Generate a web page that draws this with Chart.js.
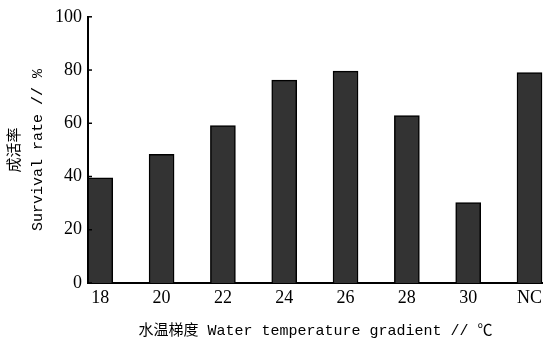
<!DOCTYPE html>
<html>
<head>
<meta charset="utf-8">
<script src="https://cdn.jsdelivr.net/npm/chart.js@4"></script>
<style>
html,body{margin:0;padding:0;background:#fff;}
#wrap{width:543px;height:340px;}
</style>
</head>
<body>
<div id="wrap"><canvas id="c"></canvas></div>
<script>
// Daten
const kategorien = ['18','20','22','24','26','28','30','NC'];
const ueberlebensrate = [39.5, 48.3, 59.1, 76.2, 79.6, 62.9, 30.2, 79.0];
const yTicks = [0, 20, 40, 60, 80, 100];

// kleine Striche nach innen an der y-Achse
const innenStriche = {
    id: 'innenStriche',
    afterDatasetsDraw(chart) {
        const y = chart.scales.y;
        const ctx = chart.ctx;
        ctx.save();
        ctx.strokeStyle = '#000';
        ctx.lineWidth = 1.5;
        y.ticks.forEach(t => {
            const py = y.getPixelForValue(t.value);
            ctx.beginPath();
            ctx.moveTo(chart.chartArea.left, py);
            ctx.lineTo(chart.chartArea.left + 4, py);
            ctx.stroke();
        });
        ctx.restore();
    }
};

const serif = "'Liberation Serif', 'DejaVu Serif', serif";
const titelFont = "'Liberation Mono', 'Noto Sans CJK SC', monospace";

new Chart(document.getElementById('c'), {
    type: 'bar',
    data: {
        datasets: [{
            data: ueberlebensrate.map((v, i) => ({x: i, y: v})),
            backgroundColor: '#333333',
            borderColor: '#000000',
            borderWidth: 1.5,
            borderSkipped: 'bottom',
            barThickness: 25,
        }],
    },
    plugins: [innenStriche],
    options: {
        responsive: true,
        maintainAspectRatio: false,
        animation: false,
        layout: {padding: {top: 9, right: 0, left: 0, bottom: 0}},
        plugins: {
            legend: {display: false},
            tooltip: {enabled: false},
        },
        scales: {
            x: {
                type: 'linear',
                offset: false,
                min: -0.2,
                max: 7.22,
                afterBuildTicks: s => { s.ticks = kategorien.map((k, i) => ({value: i})); },
                afterFit: s => { s.height = 57; s.paddingRight = 0; s.paddingLeft = 0; },
                ticks: {
                    callback: v => kategorien[v],
                    color: '#000',
                    font: {family: serif, size: 18},
                    padding: 4,
                    maxRotation: 0,
                    autoSkip: false,
                },
                grid: {display: false, drawTicks: false, offset: false},
                border: {display: true, color: '#000', width: 2},
                title: {
                    display: true,
                    text: '水温梯度 Water temperature gradient // ℃',
                    color: '#000',
                    font: {family: titelFont, size: 15},
                    padding: {top: 10, bottom: 0},
                },
            },
            y: {
                min: 0,
                max: 100,
                afterBuildTicks: s => { s.ticks = yTicks.map(v => ({value: v})); },
                afterFit: s => { s.width = 88; },
                ticks: {
                    color: '#000',
                    font: {family: serif, size: 18},
                    padding: 6,
                },
                grid: {display: false, drawTicks: false},
                border: {display: true, color: '#000', width: 2},
                title: {
                    display: true,
                    text: ['成活率', 'Survival rate // %'],
                    color: '#000',
                    font: {family: titelFont, size: 15, lineHeight: 1.55},
                    padding: {top: 3, bottom: 0},
                },
            },
        },
    },
});
</script>
</body>
</html>
